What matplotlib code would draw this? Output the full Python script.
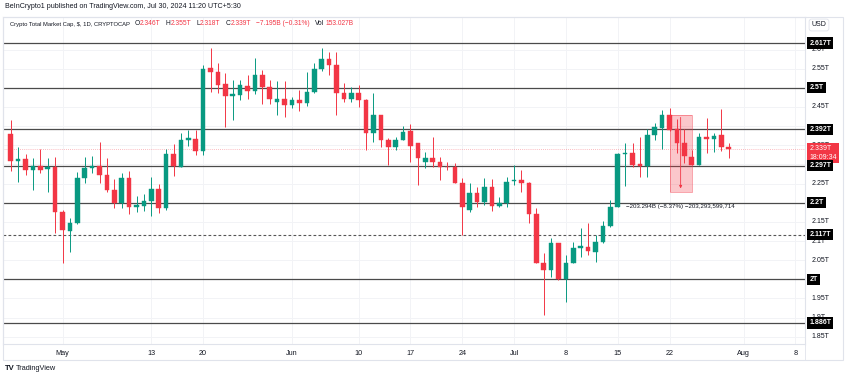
import matplotlib
matplotlib.use("Agg")
import matplotlib.pyplot as plt
import matplotlib.dates as mdates
import matplotlib.transforms as mtransforms
from matplotlib.patches import Rectangle
import numpy as np
import pandas as pd

plt.rcParams["font.family"] = ["Liberation Sans", "DejaVu Sans"]

# ---- data (daily candles, Apr 24 .. Jul 30 2024, values in trillions USD) ----
dates = pd.date_range("2024-04-24", "2024-07-30", freq="D")
opens = [2.379, 2.310, 2.313, 2.285, 2.297, 2.287, 2.292,
         2.177, 2.127, 2.146, 2.264, 2.290, 2.297, 2.272, 2.233, 2.200, 2.265, 2.190, 2.191,
         2.204, 2.237, 2.187, 2.327, 2.294, 2.365, 2.367, 2.336, 2.551, 2.540, 2.509, 2.479,
         2.481, 2.506, 2.492, 2.533, 2.501, 2.464, 2.470,
         2.455, 2.468, 2.461, 2.488, 2.549, 2.575, 2.560, 2.486, 2.472, 2.487, 2.468, 2.381,
         2.428, 2.365, 2.345, 2.365, 2.387, 2.355, 2.307, 2.316, 2.307, 2.294, 2.292, 2.252,
         2.181, 2.226, 2.203, 2.242, 2.191, 2.200,
         2.256, 2.259, 2.251, 2.171, 2.043, 2.024, 2.094, 2.000, 2.043, 2.083, 2.085, 2.072,
         2.098, 2.139, 2.190, 2.327, 2.331, 2.300, 2.297, 2.377, 2.394, 2.429, 2.392, 2.355,
         2.320, 2.298, 2.371, 2.367, 2.377, 2.346]
highs = [2.416, 2.345, 2.326, 2.316, 2.340, 2.318, 2.320,
         2.181, 2.159, 2.279, 2.320, 2.322, 2.359, 2.316, 2.261, 2.278, 2.283, 2.217, 2.224,
         2.268, 2.250, 2.339, 2.352, 2.383, 2.390, 2.390, 2.560, 2.603, 2.566, 2.538, 2.520,
         2.520, 2.533, 2.577, 2.546, 2.520, 2.519, 2.519,
         2.477, 2.494, 2.542, 2.566, 2.603, 2.594, 2.594, 2.512, 2.503, 2.507, 2.470, 2.486,
         2.430, 2.368, 2.371, 2.400, 2.405, 2.355, 2.333, 2.372, 2.320, 2.307, 2.303, 2.264,
         2.251, 2.242, 2.264, 2.261, 2.216, 2.268,
         2.298, 2.285, 2.255, 2.185, 2.068, 2.107, 2.094, 2.064, 2.098, 2.133, 2.146, 2.116,
         2.151, 2.207, 2.330, 2.355, 2.355, 2.372, 2.392, 2.407, 2.442, 2.446, 2.418, 2.392,
         2.338, 2.381, 2.420, 2.381, 2.444, 2.355]
lows = [2.284, 2.255, 2.272, 2.233, 2.277, 2.227, 2.122,
        2.042, 2.072, 2.144, 2.252, 2.277, 2.252, 2.229, 2.185, 2.185, 2.170, 2.177, 2.178,
        2.166, 2.174, 2.181, 2.270, 2.292, 2.348, 2.325, 2.324, 2.490, 2.486, 2.397, 2.416,
        2.468, 2.470, 2.484, 2.458, 2.458, 2.429, 2.425,
        2.446, 2.440, 2.452, 2.486, 2.545, 2.533, 2.429, 2.464, 2.464, 2.451, 2.338, 2.359,
        2.346, 2.298, 2.338, 2.364, 2.305, 2.246, 2.290, 2.294, 2.259, 2.285, 2.251, 2.116,
        2.177, 2.190, 2.194, 2.179, 2.188, 2.188,
        2.246, 2.229, 2.146, 2.043, 1.907, 2.007, 1.998, 1.942, 2.042, 2.059, 2.064, 2.046,
        2.094, 2.136, 2.188, 2.244, 2.294, 2.268, 2.268, 2.364, 2.339, 2.388, 2.329, 2.303,
        2.298, 2.298, 2.329, 2.333, 2.336, 2.318]
closes = [2.310, 2.314, 2.285, 2.297, 2.285, 2.292, 2.177,
          2.129, 2.146, 2.264, 2.290, 2.297, 2.272, 2.233, 2.200, 2.265, 2.190, 2.193, 2.204,
          2.237, 2.187, 2.327, 2.296, 2.365, 2.368, 2.335, 2.550, 2.540, 2.507, 2.479, 2.483,
          2.507, 2.492, 2.533, 2.501, 2.470, 2.470, 2.455,
          2.468, 2.461, 2.488, 2.549, 2.574, 2.560, 2.486, 2.472, 2.487, 2.468, 2.381, 2.428,
          2.365, 2.345, 2.365, 2.385, 2.347, 2.316, 2.316, 2.307, 2.294, 2.292, 2.252, 2.188,
          2.226, 2.203, 2.242, 2.191, 2.200, 2.255,
          2.258, 2.251, 2.171, 2.043, 2.024, 2.094, 2.000, 2.043, 2.083, 2.087, 2.074, 2.098,
          2.139, 2.188, 2.327, 2.331, 2.298, 2.297, 2.377, 2.397, 2.429, 2.390, 2.355, 2.322,
          2.298, 2.371, 2.367, 2.374, 2.346, 2.339]

levels = [2.617, 2.5, 2.392, 2.297, 2.2, 2.117, 2.0, 1.886]
level_labels = ["2.617T", "2.5T", "2.392T", "2.297T", "2.2T", "2.117T", "2T", "1.886T"]
level_dashed = [False, False, False, False, False, True, False, False]

# grid steps, and the scale labels TradingView leaves visible (others sit under level tags)
price_ticks = [1.85, 1.9, 1.95, 2.0, 2.05, 2.1, 2.15, 2.2, 2.25, 2.3, 2.35, 2.4, 2.45,
               2.5, 2.55, 2.6]
shown_ticks = [1.85, 1.9, 1.95, 2.05, 2.1, 2.15, 2.25, 2.35, 2.45, 2.55, 2.6]
shown_tick_labels = ["1.85T", "1.9T", "1.95T", "2.05T", "2.1T", "2.15T", "2.25T", "2.35T",
                     "2.45T", "2.55T", "2.6T"]
date_ticks = ["2024-05-01", "2024-05-13", "2024-05-20", "2024-06-01", "2024-06-10",
              "2024-06-17", "2024-06-24", "2024-07-01", "2024-07-08", "2024-07-15",
              "2024-07-22", "2024-08-01", "2024-08-08"]
date_tick_labels = ["May", "13", "20", "Jun", "10", "17", "24", "Jul", "8", "15", "22",
                    "Aug", "8"]

last_price = 2.339
last_label = "2.339T"
countdown = "18:09:34"
drop_start, drop_end = "2024-07-22", "2024-07-25"
drop_top, drop_bottom = 2.430, 2.227
drop_text = "\u2212203.294B (\u22128.37%) \u2212203,293,599,714"

UP, DOWN = "#089981", "#f23645"
INK = "#131722"
GRID = "#f2f3f6"
FRAME = "#e0e3eb"

W, H = 850, 380
fig = plt.figure(figsize=(W / 100, H / 100), dpi=100)
fig.patch.set_facecolor("white")

# pane in pixel terms: x 3..805, y 17..344
ax = fig.add_axes([3 / W, (H - 344) / H, 802 / W, (344 - 17) / H])
ax.set_facecolor("white")

x = mdates.date2num(dates)
x0 = mdates.date2num(pd.Timestamp("2024-05-01"))
ax.set_xlim(x0 - 8.04, x0 + 100.3)
ax.set_ylim(1.8311, 2.6849)

# grid
for t in price_ticks:
    ax.axhline(t, color=GRID, lw=0.7, zorder=0)
for d in date_ticks:
    ax.axvline(mdates.date2num(pd.Timestamp(d)), color=GRID, lw=0.7, zorder=0)

# candles
o = np.array(opens); c = np.array(closes); hi = np.array(highs); lo = np.array(lows)
col = np.where(c >= o, UP, DOWN)
ax.vlines(x, lo, hi, colors=col, lw=0.7, zorder=3)
body_lo = np.minimum(o, c)
body_h = np.maximum(np.abs(c - o), 0.002)
ax.bar(x, body_h, bottom=body_lo, width=0.62, color=col, edgecolor=col, lw=0.3, zorder=4)

# horizontal levels
for lv, dash in zip(levels, level_dashed):
    if dash:
        ax.axhline(lv, color="#555555", lw=0.8, ls=(0, (2.5, 2)), zorder=2)
    else:
        ax.axhline(lv, color="#4a4a4a", lw=0.9, zorder=2)

# last price line
ax.axhline(last_price, color=DOWN, lw=0.6, ls=(0, (1, 1.5)), alpha=0.45, zorder=1)

# measurement box
xs = mdates.date2num(pd.Timestamp(drop_start))
xe = mdates.date2num(pd.Timestamp(drop_end))
ax.add_patch(Rectangle((xs, drop_bottom), xe - xs, drop_top - drop_bottom,
                       facecolor=DOWN, alpha=0.28, edgecolor="none", zorder=5))
ax.add_patch(Rectangle((xs, drop_bottom), xe - xs, drop_top - drop_bottom,
                       facecolor="none", edgecolor=DOWN, alpha=0.45, lw=0.7, zorder=5))
xm = (xs + xe) / 2
ax.annotate("", xy=(xm, drop_bottom + 0.003), xytext=(xm, drop_top),
            arrowprops=dict(arrowstyle="-|>", color=DOWN, lw=0.6, mutation_scale=4),
            zorder=6)
ax.text(xm, drop_bottom - 0.036, drop_text, ha="center", va="center",
        fontsize=4.4, color=INK, zorder=7)

# axes styling
for s in ax.spines.values():
    s.set_color(FRAME)
    s.set_linewidth(0.8)
ax.set_yticks([])
ax.set_xticks([mdates.date2num(pd.Timestamp(d)) for d in date_ticks])
ax.set_xticklabels(date_tick_labels, fontsize=5.2, color=INK)
ax.tick_params(axis="x", length=0, pad=4.5)

# price scale on the right
blend = mtransforms.blended_transform_factory(ax.transAxes, ax.transData)
for t, lab in zip(shown_ticks, shown_tick_labels):
    ax.text(1.0085, t, lab, transform=blend, ha="left", va="center", fontsize=5.0,
            color=INK, clip_on=False, zorder=8)
shift = mtransforms.ScaledTranslation(0, 3.0 / 72, fig.dpi_scale_trans)
ax.text(1.0055, last_price, last_label + "\n" + countdown, transform=blend + shift,
        ha="left", va="top", fontsize=5.0, color="white", linespacing=1.3,
        clip_on=False, zorder=10,
        bbox=dict(boxstyle="square,pad=0.32", fc=DOWN, ec="none"))
for lv, lab in zip(levels, level_labels):
    ax.text(1.0055, lv, lab, transform=blend, ha="left", va="center", fontsize=5.0,
            fontweight="bold", color="white", clip_on=False, zorder=11,
            bbox=dict(boxstyle="square,pad=0.3", fc="black", ec="none"))

# outer frame and price-axis separator
fig.add_artist(Rectangle((3 / W, (H - 360) / H), 840 / W, 343 / H, transform=fig.transFigure,
                         fill=False, edgecolor=FRAME, lw=0.8))
fig.add_artist(plt.Line2D([805 / W, 805 / W], [(H - 360) / H, (H - 17) / H],
                          transform=fig.transFigure, color=FRAME, lw=0.6))

# USD box
fig.text(819 / W, 1 - 25 / H, "USD", fontsize=5.0, color=INK, ha="center", va="center",
         bbox=dict(boxstyle="round,pad=0.35", fc="white", ec=FRAME, lw=0.6))

# header lines
fig.text(5 / W, 1 - 7 / H, "BeInCrypto1 published on TradingView.com, Jul 30, 2024 11:20 UTC+5:30",
         fontsize=5.1, color=INK, ha="left", va="center")
parts = [("O", INK, 3.2), ("2.346T", DOWN, 0),
         ("H", INK, 3.8), ("2.355T", DOWN, 0),
         ("L", INK, 3.8), ("2.318T", DOWN, 0),
         ("C", INK, 3.8), ("2.339T", DOWN, 0),
         ("\u22127.195B (\u22120.31%)", DOWN, 3.8),
         ("Vol", INK, 3.8), ("153.027B", DOWN, 0.8)]
prev = fig.text(10 / W, 1 - 27 / H, "Crypto Total Market Cap, $, 1D, CRYPTOCAP", fontsize=4.2,
                color=INK, ha="left", va="bottom")
for txt, colr, gap in parts:
    prev = ax.annotate(txt, xy=(1, 0), xycoords=prev, xytext=(gap, 0),
                       textcoords="offset points", fontsize=4.8, color=colr,
                       ha="left", va="bottom", annotation_clip=False)

# TradingView mark
fig.text(5 / W, 1 - 369 / H, "TV", fontsize=5.5, fontweight="bold", color=INK,
         ha="left", va="center")
fig.text(16 / W, 1 - 369 / H, "TradingView", fontsize=5.3, color=INK, ha="left", va="center")

fig.savefig("out.png", dpi=100)
